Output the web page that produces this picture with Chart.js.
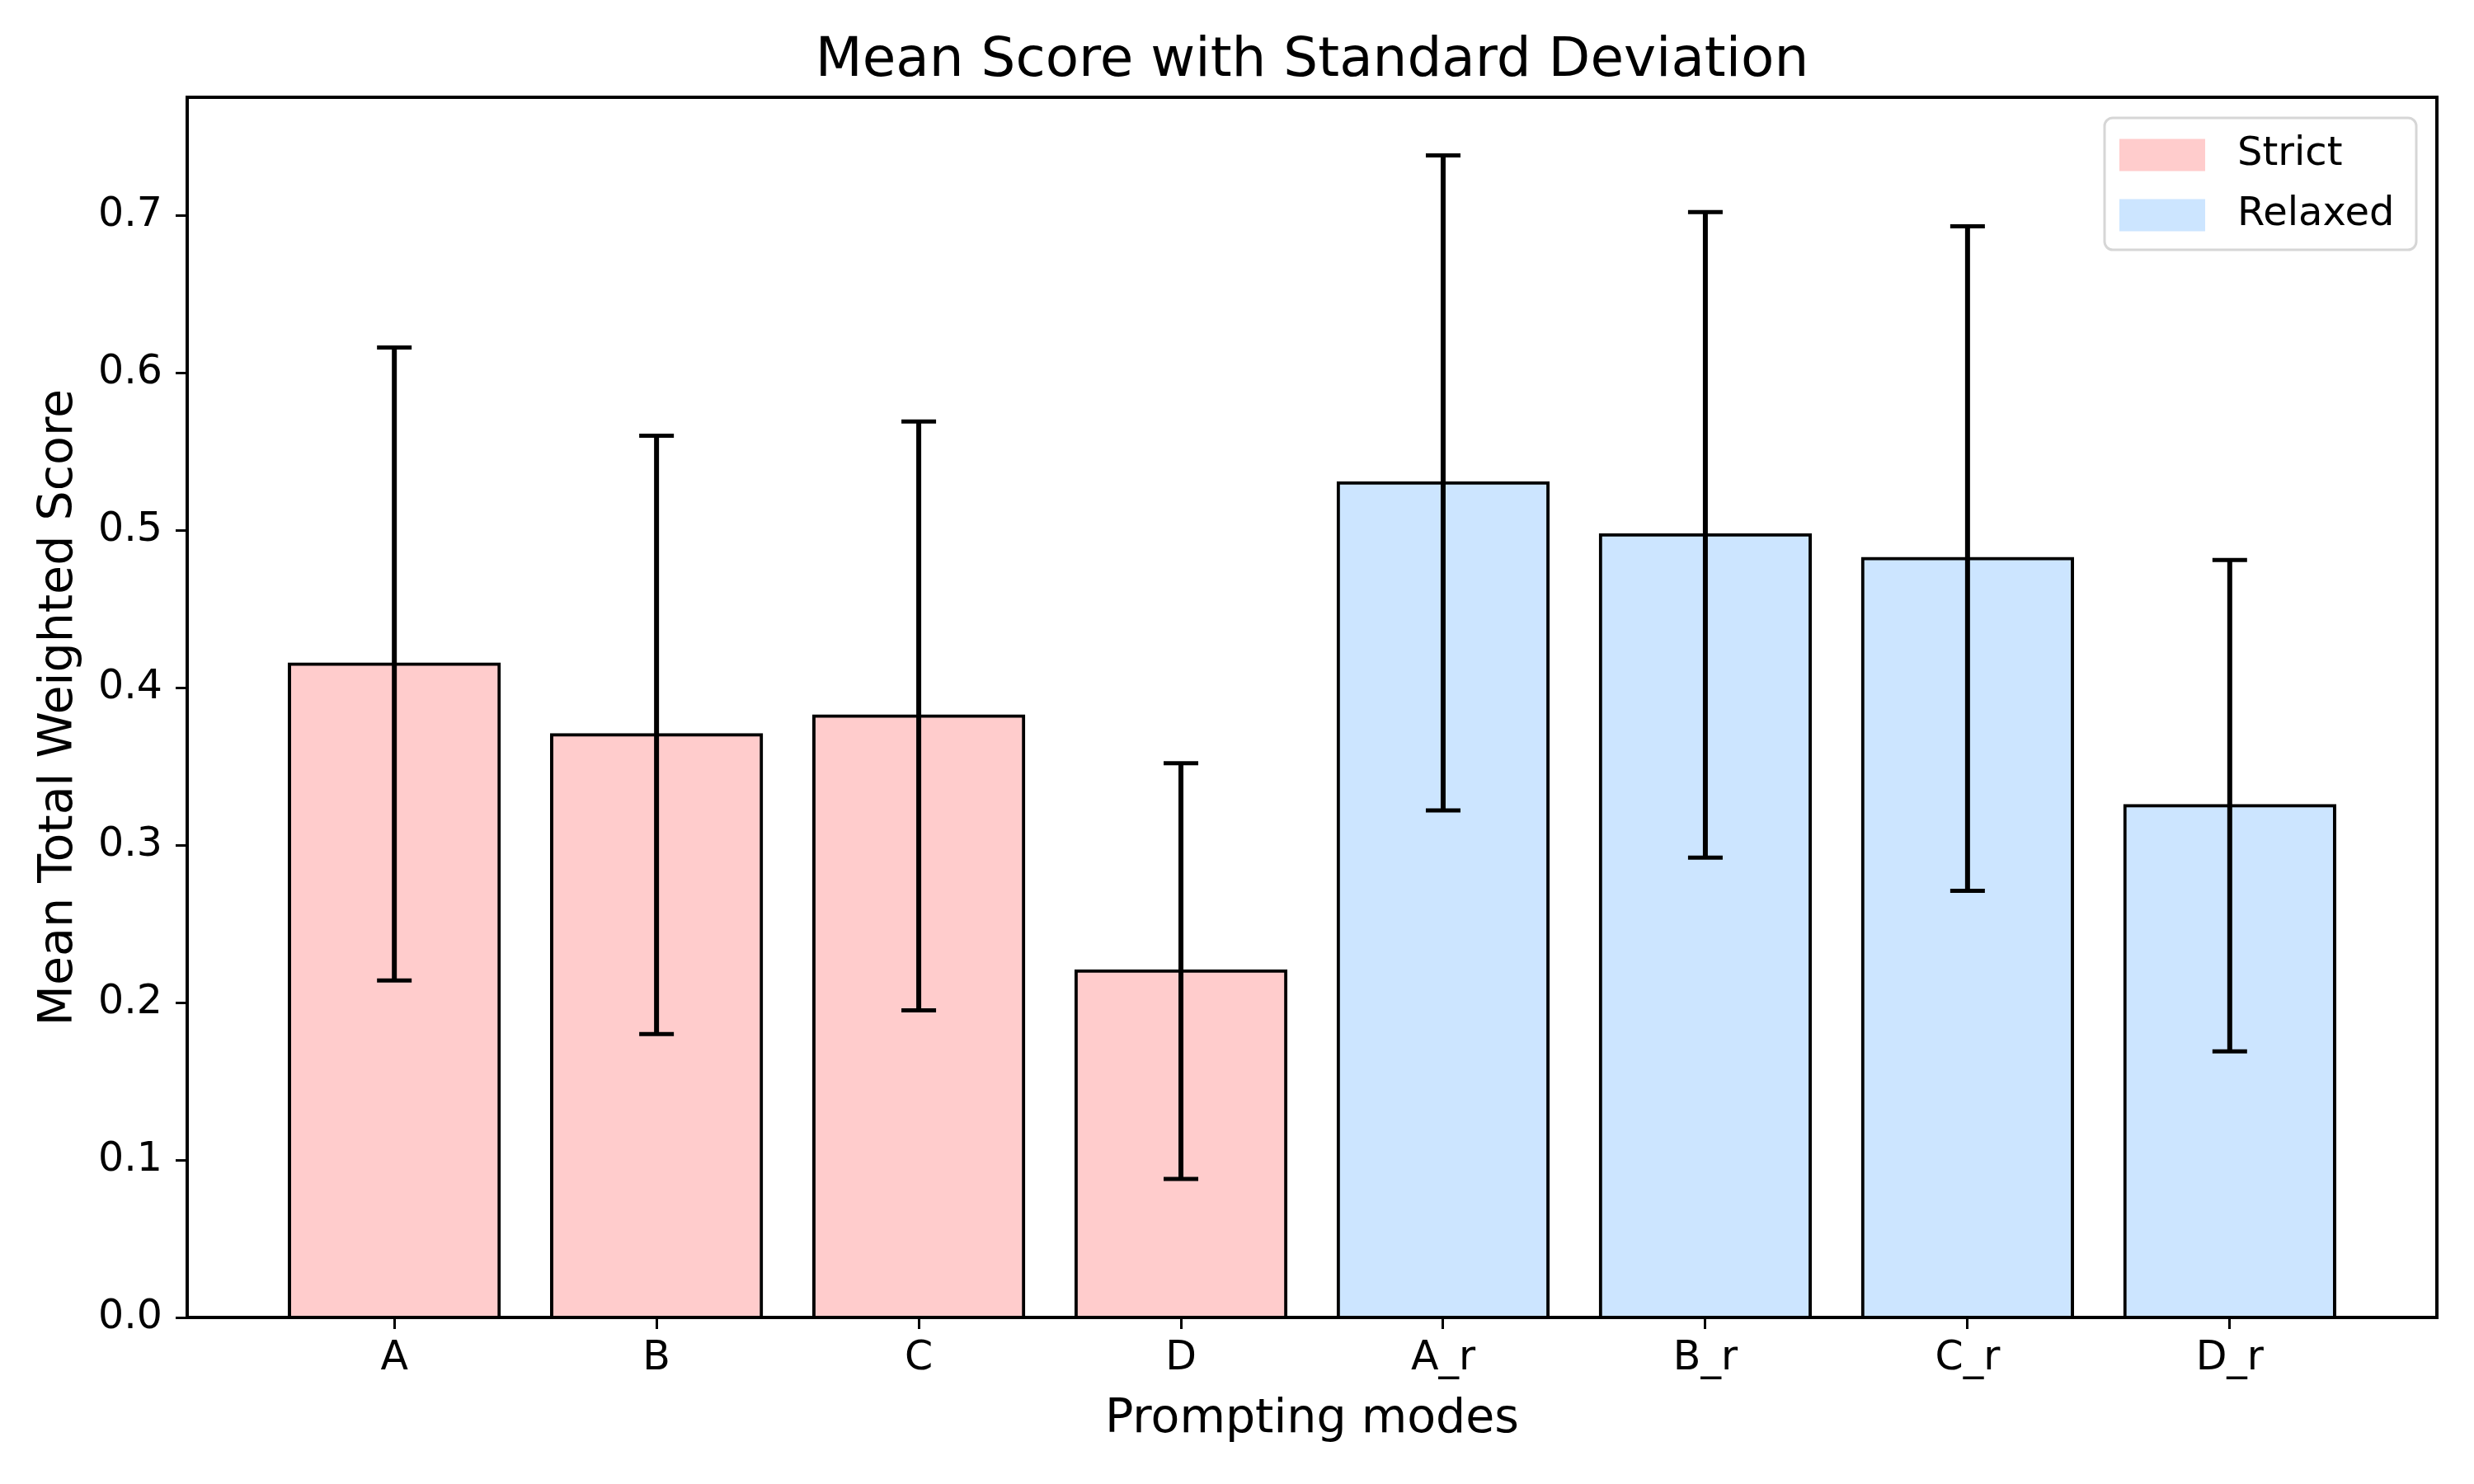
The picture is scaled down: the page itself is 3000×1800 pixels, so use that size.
<!DOCTYPE html>
<html>
<head>
<meta charset="utf-8">
<script src="https://cdn.jsdelivr.net/npm/chart.js@4.4.1/dist/chart.umd.min.js"></script>
<style>
  body { margin: 0; background: #ffffff; }
  canvas { display: block; }
</style>
</head>
<body>
<canvas id="scoreChart" width="3000" height="1800"></canvas>
<script>
var categories = ['A', 'B', 'C', 'D', 'A_r', 'B_r', 'C_r', 'D_r'];
var strictMeans = [0.415, 0.370, 0.382, 0.220];
var strictStd = [0.201, 0.190, 0.187, 0.132];
var relaxedMeans = [0.530, 0.497, 0.482, 0.325];
var relaxedStd = [0.208, 0.205, 0.211, 0.156];
var yTicks = [0.0, 0.1, 0.2, 0.3, 0.4, 0.5, 0.6, 0.7];

var FONT = 'DejaVu Sans';

// strict modes sit at 0..3, relaxed ones at 4..7
function toPoints(means, start) {
    return means.map(function(m, i) { return {x: start + i, y: m}; });
}

// like matplotlib: 5% margin above the highest error bar
var tops = strictMeans.map(function(m, i) { return m + strictStd[i]; })
    .concat(relaxedMeans.map(function(m, i) { return m + relaxedStd[i]; }));
var yMax = Math.max.apply(null, tops) * 1.05;

const errorBars = {
    id: 'errorBars',
    afterDatasetsDraw(chart) {
        const {ctx} = chart;
        const y = chart.scales.y;
        ctx.save();
        ctx.strokeStyle = '#000';
        chart.data.datasets.forEach(function(ds, di) {
            const meta = chart.getDatasetMeta(di);
            ds.data.forEach(function(p, i) {
                const x = meta.data[i].x;
                const hi = y.getPixelForValue(p.y + ds.errors[i]);
                const lo = y.getPixelForValue(p.y - ds.errors[i]);
                ctx.lineWidth = 6;
                ctx.beginPath();
                ctx.moveTo(x, hi);
                ctx.lineTo(x, lo);
                ctx.stroke();
                ctx.lineWidth = 5;
                ctx.beginPath();
                ctx.moveTo(x - 21, hi); ctx.lineTo(x + 21, hi);
                ctx.moveTo(x - 21, lo); ctx.lineTo(x + 21, lo);
                ctx.stroke();
            });
        });
        ctx.restore();
    }
};

const frameAndLegend = {
    id: 'frameAndLegend',
    afterDraw(chart) {
        const {ctx, chartArea} = chart;
        ctx.save();
        ctx.strokeStyle = '#000';
        ctx.lineWidth = 4;
        ctx.strokeRect(chartArea.left, chartArea.top, chartArea.right - chartArea.left, chartArea.bottom - chartArea.top);

        // legend box in the upper right corner
        const bx = chartArea.right - 403, by = chartArea.top + 25, bw = 378, bh = 160;
        ctx.fillStyle = 'rgba(255,255,255,0.8)';
        ctx.strokeStyle = '#d6d6d6';
        ctx.lineWidth = 3;
        ctx.beginPath();
        ctx.roundRect(bx, by, bw, bh, 10);
        ctx.fill();
        ctx.stroke();
        ctx.font = '48px "' + FONT + '"';
        ctx.textBaseline = 'middle';
        ctx.textAlign = 'left';
        chart.data.datasets.forEach(function(ds, i) {
            const cy = by + 45 + i * 73;
            ctx.fillStyle = ds.backgroundColor;
            ctx.fillRect(bx + 18, cy - 19.5, 104, 39);
            ctx.fillStyle = '#000';
            ctx.fillText(ds.label, bx + 161, cy);
        });
        ctx.restore();
    }
};

new Chart(document.getElementById('scoreChart'), {
    type: 'bar',
    data: {
        datasets: [{
            label: 'Strict',
            data: toPoints(strictMeans, 0),
            errors: strictStd,
            backgroundColor: '#ffcccc',
            borderColor: '#000',
            borderWidth: 4,
            inflateAmount: 2
        }, {
            label: 'Relaxed',
            data: toPoints(relaxedMeans, 4),
            errors: relaxedStd,
            backgroundColor: '#cce5ff',
            borderColor: '#000',
            borderWidth: 4,
            inflateAmount: 2
        }]
    },
    plugins: [errorBars, frameAndLegend],
    options: {
        responsive: false,
        devicePixelRatio: 1,
        animation: false,
        grouped: false,
        barPercentage: 0.8,
        categoryPercentage: 1.0,
        layout: { padding: { left: 0, top: 0, right: 45, bottom: 0 } },
        plugins: {
            legend: { display: false },
            tooltip: { enabled: false },
            title: {
                display: true,
                fullSize: false,
                text: 'Mean Score with Standard Deviation',
                color: '#000',
                font: { family: FONT, size: 66, weight: 'normal', lineHeight: 1.2 },
                padding: { top: 35, bottom: 3.8 }
            }
        },
        scales: {
            x: {
                type: 'linear',
                min: -0.79,
                max: 7.79,
                offset: false,
                afterBuildTicks: function(axis) {
                    axis.ticks = categories.map(function(c, i) { return {value: i}; });
                },
                afterFit: function(axis) { axis.height = 202; },
                ticks: {
                    color: '#000',
                    padding: 7,
                    maxRotation: 0,
                    autoSkip: false,
                    font: { family: FONT, size: 49 },
                    callback: function(v) { return categories[v]; }
                },
                grid: { display: true, offset: false, drawOnChartArea: false, drawTicks: true, tickLength: 14, tickWidth: 3, tickColor: '#000' },
                border: { display: false },
                title: {
                    display: true,
                    text: 'Prompting modes',
                    color: '#000',
                    font: { family: FONT, size: 57, lineHeight: 1.2 },
                    padding: { top: 0, bottom: 44 }
                }
            },
            y: {
                min: 0,
                max: yMax,
                afterBuildTicks: function(axis) {
                    axis.ticks = yTicks.map(function(v) { return {value: v}; });
                },
                afterFit: function(axis) { axis.width = 227; },
                ticks: {
                    color: '#000',
                    padding: 16,
                    font: { family: FONT, size: 49 },
                    callback: function(v) { return v.toFixed(1); }
                },
                grid: { display: true, drawOnChartArea: false, drawTicks: true, tickLength: 14, tickWidth: 3, tickColor: '#000' },
                border: { display: false },
                title: {
                    display: true,
                    text: 'Mean Total Weighted Score',
                    color: '#000',
                    font: { family: FONT, size: 57, lineHeight: 1.2 },
                    padding: { top: 38, bottom: 0 }
                }
            }
        }
    }
});
</script>
</body>
</html>
